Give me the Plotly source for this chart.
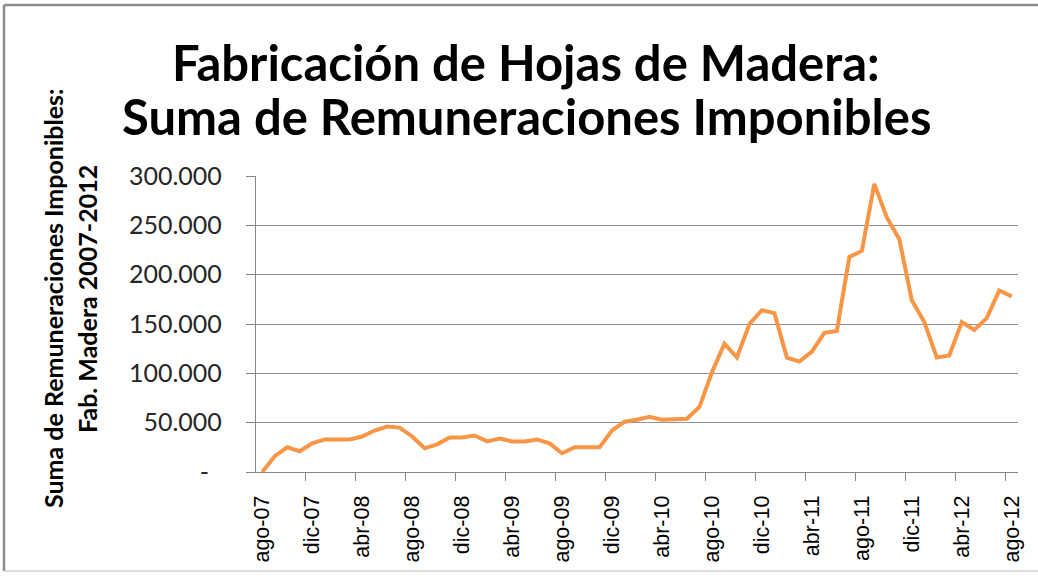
import plotly.graph_objects as go

months = ["ene", "feb", "mar", "abr", "may", "jun", "jul", "ago", "sep", "oct", "nov", "dic"]
# Monthly categories from ago-07 to ago-12
categories = []
for y in range(2007, 2013):
    for m in range(12):
        if (y == 2007 and m < 7) or (y == 2012 and m > 7):
            continue
        categories.append(f"{months[m]}-{str(y)[2:]}")

values = [
    0, 16000, 25000, 21000, 29000, 33000, 33000, 33000, 36000, 42000,
    46000, 45000, 36000, 24000, 28000, 35000, 35000, 37000, 31000, 34000,
    31000, 31000, 33000, 29000, 19000, 25000, 25000, 25000, 42000, 51000,
    53000, 56000, 53000, 53000, 54000, 66000, 101000, 130000, 116000, 150000,
    164000, 161000, 116000, 112000, 122000, 141000, 143000, 218000, 224000, 292000,
    258000, 236000, 174000, 152000, 116000, 118000, 152000, 144000, 156000, 184000,
    178000,
]

y_tickvals = [0, 50000, 100000, 150000, 200000, 250000, 300000]
y_ticktext = ["-", "50.000", "100.000", "150.000", "200.000", "250.000", "300.000"]

title_lines = ["Fabricación de Hojas de Madera:", "Suma de Remuneraciones Imponibles"]
ytitle_lines = ["Suma de Remuneraciones Imponibles:", "Fab. Madera 2007-2012"]

label_step = 4
x_idx = list(range(len(categories)))
x_tickvals = x_idx[::label_step]
x_ticktext = categories[::label_step]
boundary_ticks = [i - 0.5 for i in x_idx[label_step::label_step]]

NB = "\u00a0"
pad = NB * 3
y_ticktext_padded = [(t + NB * 2 if t == "-" else t) + pad for t in y_ticktext]

W, H = 1038, 581
L, R, T, B = 256, 20, 176, 109
PW, PH = W - L - R, H - T - B


def px(xp):
    return (xp - L) / PW


def py(yp):
    return (H - B - yp) / PH


fig = go.Figure()
fig.add_trace(go.Scatter(
    x=x_idx, y=values, mode="lines",
    line=dict(color="#F79646", width=4),
    hoverinfo="skip", showlegend=False,
))
fig.add_trace(go.Scatter(x=[-0.5, len(categories) - 0.5], y=[None, None], xaxis="x2",
                         mode="markers", showlegend=False, hoverinfo="skip"))

annotations = [
    dict(text=title_lines[0], xref="paper", yref="paper", x=px(526), y=py(62),
         xanchor="center", yanchor="middle", showarrow=False,
         font=dict(family="Lato", size=49, color="black", weight="bold")),
    dict(text=title_lines[1], xref="paper", yref="paper", x=px(527), y=py(116),
         xanchor="center", yanchor="middle", showarrow=False,
         font=dict(family="Lato", size=49, color="black", weight="bold")),
    dict(text=ytitle_lines[0], xref="paper", yref="paper", x=px(53), y=py(299),
         xanchor="center", yanchor="middle", showarrow=False, textangle=-90,
         font=dict(family="Lato", size=25, color="black", weight="bold")),
    dict(text=ytitle_lines[1], xref="paper", yref="paper", x=px(87), y=py(299),
         xanchor="center", yanchor="middle", showarrow=False, textangle=-90,
         font=dict(family="Lato", size=25, color="black", weight="bold")),
]

fig.update_layout(
    width=W, height=H,
    margin=dict(l=L, r=R, t=T, b=B, autoexpand=False),
    paper_bgcolor="white", plot_bgcolor="white",
    annotations=annotations,
    xaxis=dict(
        range=[-0.5, len(categories) - 0.5], automargin=False,
        tickmode="array", tickvals=x_tickvals, ticktext=x_ticktext,
        tickangle=-90, ticks="", showgrid=False, zeroline=False,
        showline=True, linecolor="#868686", linewidth=1,
        tickfont=dict(family="Liberation Sans", size=21.5, color="black"),
        ticklabelstandoff=14,
    ),
    xaxis2=dict(
        overlaying="x", anchor="y", side="bottom", automargin=False,
        range=[-0.5, len(categories) - 0.5],
        tickmode="array", tickvals=boundary_ticks, ticktext=[""] * len(boundary_ticks),
        ticks="outside", ticklen=8, tickcolor="#868686", tickwidth=1,
        showgrid=False, zeroline=False, showline=False,
    ),
    yaxis=dict(
        range=[0, 300000], automargin=False,
        tickmode="array", tickvals=y_tickvals, ticktext=y_ticktext_padded,
        ticks="outside", ticklen=9, tickcolor="#868686",
        showgrid=True, gridcolor="#909090", gridwidth=1,
        zeroline=False, showline=True, linecolor="#868686", linewidth=1,
        tickfont=dict(family="Lato", size=25, color="#262626"),
    ),
    shapes=[
        dict(type="line", xref="paper", yref="paper",
             x0=px(4), x1=px(4), y0=py(5), y1=py(571),
             line=dict(color="#8C8C8C", width=2.5)),
        dict(type="line", xref="paper", yref="paper",
             x0=px(4), x1=px(W + 5), y0=py(5), y1=py(5),
             line=dict(color="#8C8C8C", width=2.5)),
        dict(type="line", xref="paper", yref="paper",
             x0=px(4), x1=px(W + 5), y0=py(571), y1=py(571),
             line=dict(color="#BFBFBF", width=1)),
    ],
)

fig.write_html("out.html", config={"displayModeBar": False},
               post_script="document.body.style.margin='0';")
